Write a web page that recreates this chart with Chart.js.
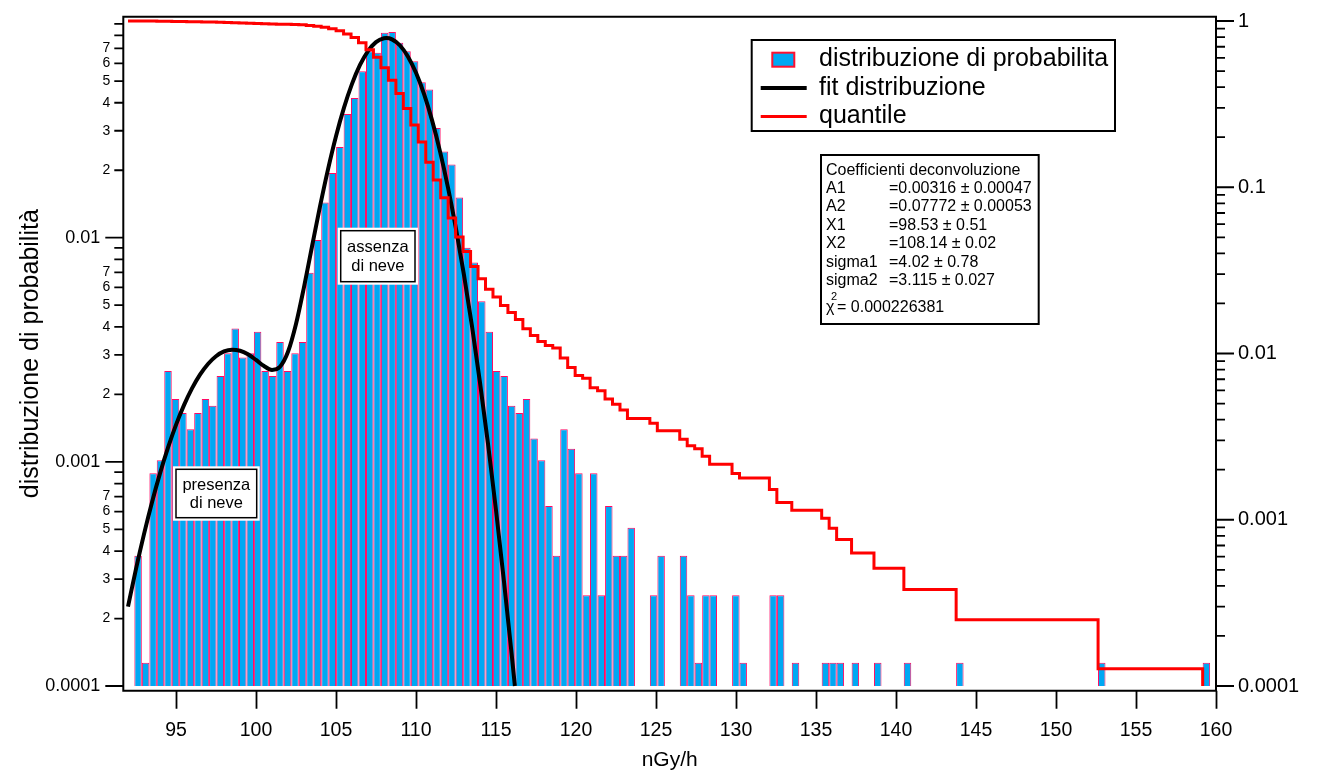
<!DOCTYPE html>
<html><head><meta charset="utf-8">
<script src="https://cdn.jsdelivr.net/npm/chart.js@4.4.0/dist/chart.umd.min.js"></script>
<style>html,body{margin:0;padding:0;background:#fff;}canvas{display:block;}</style>
</head><body>
<canvas id="c" width="1326" height="774"></canvas>
<script>
// ---------- data ----------
const binCenters = [92.63,93.10,93.57,94.03,94.50,94.97,95.43,95.90,96.37,96.84,97.30,97.77,98.24,98.70,99.17,99.64,100.10,100.57,101.04,101.50,
101.97,102.44,102.91,103.37,103.84,104.31,104.77,105.24,105.71,106.17,106.64,107.11,107.57,108.04,108.51,108.97,109.44,109.91,110.38,110.84,
111.31,111.78,112.24,112.71,113.18,113.64,114.11,114.58,115.04,115.51,115.98,116.45,116.91,117.38,117.85,118.31,118.78,119.25,119.71,120.18,
120.65,121.11,121.58,122.05,122.52,122.98,123.45,123.92,124.38,124.85,125.32,125.78,126.25,126.72,127.18,127.65,128.12,128.58,129.05,129.52,
129.99,130.45,130.92,131.39,131.85,132.32,132.79,133.25,133.72,134.19,134.65,135.12,135.59,136.06,136.52,136.99,137.46,137.92,138.39,138.86,
139.32,139.79,140.26,140.72,141.19,141.66,142.12,142.59,143.06,143.53,143.99,144.46,144.93,145.39,145.86,146.33,146.79,147.26,147.73,148.19,
148.66,149.13,149.60,150.06,150.53,151.00,151.46,151.93,152.40,152.86,153.33,153.80,154.26,154.73,155.20,155.67,156.13,156.60,157.07,157.53,
158.00,158.47,158.93,159.40];
const probability = [0.000381,0.000127,0.000889,0.001016,0.00254,0.001905,0.001651,0.001397,0.001651,0.001905,
0.001778,0.002413,0.003048,0.003937,0.002921,0.003048,0.00381,0.00254,0.002413,0.003429,
0.00254,0.003048,0.003429,0.006984,0.009778,0.01435,0.01943,0.0254,0.03568,0.04203,
0.05524,0.06781,0.06679,0.08203,0.08279,0.07403,0.06781,0.06121,0.0494,0.04584,
0.03086,0.02425,0.02121,0.01511,0.009016,0.007746,0.005206,0.00381,0.00254,0.002413,
0.001778,0.001651,0.001905,0.00127,0.001016,0.000635,0.000381,0.001397,0.001143,0.000889,
0.000254,0.000889,0.000254,0.000635,0.000381,0.000381,0.000508,0,0,0.000254,
0.000381,0,0,0.000381,0.000254,0.000127,0.000254,0.000254,0,0,
0.000254,0.000127,0,0,0,0.000254,0.000254,0,0.000127,0,
0,0,0.000127,0.000127,0.000127,0,0.000127,0,0,0.000127,
0,0,0,0.000127,0,0,0,0,0,0,
0.000127,0,0,0,0,0,0,0,0,0,
0,0,0,0,0,0,0,0,0,0.000127,
0,0,0,0,0,0,0,0,0,0,
0,0,0,0.000127];
const fitX = [92.0,92.5,93.0,93.5,94.0,94.5,95.0,95.5,96.0,96.5,97.0,97.5,98.0,98.5,99.0,99.5,100.0,100.5,101.0,101.5,
102.0,102.5,103.0,103.5,104.0,104.5,105.0,105.5,106.0,106.5,107.0,107.5,108.0,108.14,108.5,109.0,109.5,110.0,110.5,111.0,
111.5,112.0,112.5,113.0,113.5,114.0,114.5,115.0,115.5,116.0,116.18];
const fitY = [0.000226,0.000333,0.000476,0.000660,0.000888,0.001157,0.001462,0.001790,0.002126,0.002449,0.002734,0.002960,0.003108,0.003165,0.003131,0.003017,0.002849,0.002675,0.002572,0.002657,
0.003097,0.004121,0.006023,0.009136,0.013782,0.020187,0.028372,0.038052,0.048580,0.058968,0.068015,0.074529,0.077575,0.07772,0.076696,0.072020,0.064232,0.054409,0.043777,0.033452,
0.024278,0.016736,0.010956,0.006814,0.004025,0.002257,0.001203,0.000609,0.000292,0.000134,0.000100];
const quantileX = [92.0,92.400,92.867,93.334,93.801,94.268,94.735,95.201,95.668,96.135,96.602,97.069,97.536,98.003,98.470,98.937,99.404,99.870,100.337,100.804,
101.271,101.738,102.205,102.672,103.139,103.606,104.073,104.539,105.006,105.473,105.940,106.407,106.874,107.341,107.808,108.275,108.742,109.208,109.675,110.142,
110.609,111.076,111.543,112.010,112.477,112.944,113.411,113.877,114.344,114.811,115.278,115.745,116.212,116.679,117.146,117.613,118.080,118.546,119.013,119.480,
119.947,120.414,120.881,121.348,121.815,122.282,122.749,123.215,124.616,125.083,126.484,126.951,127.418,127.884,128.351,129.752,130.219,132.087,132.553,133.487,
135.355,135.822,136.289,137.222,138.623,140.491,143.759,152.630,159.167];
const quantileY = [1.0,0.99962,0.99949,0.99860,0.99759,0.99505,0.99314,0.99149,0.99010,0.98844,0.98654,0.98476,0.98235,0.97930,0.97537,0.97244,0.96940,0.96559,0.96305,0.96063,
0.95721,0.95467,0.95162,0.94819,0.94121,0.93143,0.91708,0.89765,0.87225,0.83657,0.79454,0.73930,0.67149,0.60470,0.52267,0.43987,0.36584,0.29803,0.23683,0.18743,
0.14159,0.11073,0.08648,0.06527,0.05016,0.04114,0.03340,0.02819,0.02438,0.02184,0.01943,0.01765,0.01600,0.01410,0.01283,0.01181,0.01117,0.01079,0.00940,0.00825,
0.00737,0.00711,0.00622,0.00597,0.00533,0.00495,0.00457,0.00406,0.00381,0.00343,0.00305,0.00279,0.00267,0.00241,0.00216,0.00190,0.00178,0.00152,0.00127,0.00114,
0.00102,0.00089,0.00076,0.00063,0.00051,0.00038,0.00025,0.000127,0.0001];
const xTickValues = [95,100,105,110,115,120,125,130,135,140,145,150,155,160];
const leftDecadeValues = [0.0001,0.001,0.01];
const leftDecadeLabels = ['0.0001','0.001','0.01'];
const rightDecadeValues = [0.0001,0.001,0.01,0.1,1];
const rightDecadeLabels = ['0.0001','0.001','0.01','0.1','1'];
const minorMultipliers = [2,3,4,5,6,7,8,9];
const labelledMinor = [2,3,4,5,6,7];
const coefTitle = 'Coefficienti deconvoluzione';
const coefNames = ['A1','A2','X1','X2','sigma1','sigma2'];
const coefValues = ['=0.00316 \u00b1 0.00047','=0.07772 \u00b1 0.00053','=98.53 \u00b1 0.51','=108.14 \u00b1 0.02','=4.02 \u00b1 0.78','=3.115 \u00b1 0.027'];
const chiText = '= 0.000226381';
const legendLabels = ['distribuzione di probabilita','fit distribuzione','quantile'];
const noteTexts = [['presenza','di neve'],['assenza','di neve']];

// ---------- styles ----------
const FONT = "'Liberation Sans', Arial, Helvetica, sans-serif";
const BAR_FILL = '#00A8F3', BAR_EDGE = '#FF0A64';
Chart.defaults.font.family = FONT;
Chart.defaults.color = '#000';

const Y_MIN = 0.00009529, Y_MAX = 0.09682;
const Y2_MIN = 0.0000937, Y2_MAX = 1.0614;

function logTicks(decades, labels, maxV, labelMinor) {
  const out = [];
  decades.forEach((d, i) => {
    out.push({value: d, major: true, text: labels[i]});
    minorMultipliers.forEach(m => {
      const v = +(d * m).toPrecision(6);
      if (v < maxV) out.push({value: v, major: false, text: (labelMinor && labelledMinor.includes(m)) ? String(m) : ''});
    });
  });
  return out;
}
const leftTicks = logTicks(leftDecadeValues, leftDecadeLabels, Y_MAX, true);
const rightTicks = logTicks(rightDecadeValues, rightDecadeLabels, Y2_MAX, false);

const histData = binCenters.map((x, i) => ({x: x, y: probability[i] > 0 ? probability[i] : null}));
const fitData = fitX.map((x, i) => ({x: x, y: fitY[i]}));
const quantData = quantileX.map((x, i) => ({x: x, y: quantileY[i]}));

function noPad(s) { s.paddingTop = 0; s.paddingBottom = 0; s.paddingLeft = 0; s.paddingRight = 0; }

// ---------- decorations ----------
const decor = {
  id: 'decor',
  afterDraw(chart) {
    const {ctx, chartArea: a, scales} = chart;
    ctx.save();
    ctx.strokeStyle = '#000';
    ctx.lineWidth = 2;
    ctx.beginPath();
    ctx.moveTo(a.left, a.top); ctx.lineTo(a.right, a.top);
    ctx.moveTo(a.left, a.top - 1); ctx.lineTo(a.left, a.bottom + 1);
    ctx.moveTo(a.left - 1, a.bottom); ctx.lineTo(a.right + 1, a.bottom);
    ctx.moveTo(a.right, a.top - 1); ctx.lineTo(a.right, a.bottom + 1);
    ctx.stroke();
    ctx.beginPath();
    ctx.lineWidth = 1.8;
    scales.x.ticks.forEach(t => {
      const px = Math.round(scales.x.getPixelForValue(t.value)) + 0.5;
      ctx.moveTo(px, a.bottom); ctx.lineTo(px, a.bottom + 18);
    });
    leftTicks.forEach(t => {
      const py = scales.y.getPixelForValue(t.value);
      const len = t.major ? 18 : 9;
      ctx.moveTo(a.left - len, py); ctx.lineTo(a.left, py);
    });
    rightTicks.forEach(t => {
      const py = scales.y2.getPixelForValue(t.value);
      const len = t.major ? 18 : 9;
      ctx.moveTo(a.right, py); ctx.lineTo(a.right + len, py);
    });
    ctx.stroke();

    const notes = [
      {r: [176, 469.3, 256.7, 517.7], lines: noteTexts[0], ys: [485, 503.5]},
      {r: [340.7, 230.7, 415, 281.7], lines: noteTexts[1], ys: [247, 266.5]}
    ];
    notes.forEach(n => {
      const [x1, y1, x2, y2] = n.r;
      ctx.fillStyle = '#fff';
      ctx.fillRect(x1 - 3, y1 - 3, x2 - x1 + 6, y2 - y1 + 6);
      ctx.strokeStyle = '#000'; ctx.lineWidth = 1.5;
      ctx.strokeRect(x1, y1, x2 - x1, y2 - y1);
      ctx.fillStyle = '#000';
      ctx.font = '16.5px ' + FONT;
      ctx.textAlign = 'center'; ctx.textBaseline = 'middle';
      n.lines.forEach((s, i) => ctx.fillText(s, (x1 + x2) / 2, n.ys[i]));
    });

    ctx.font = '16px ' + FONT;
    ctx.textAlign = 'left'; ctx.textBaseline = 'middle';
    const col1 = 826, col2 = 889;
    let w = ctx.measureText(coefTitle).width + col1;
    coefValues.forEach(v => { w = Math.max(w, col2 + ctx.measureText(v).width); });
    const bx1 = 821, by1 = 155, bx2 = w + 7, by2 = 324;
    ctx.fillStyle = '#fff';
    ctx.fillRect(bx1, by1, bx2 - bx1, by2 - by1);
    ctx.strokeStyle = '#000'; ctx.lineWidth = 2;
    ctx.strokeRect(bx1, by1, bx2 - bx1, by2 - by1);
    ctx.fillStyle = '#000';
    ctx.fillText(coefTitle, col1, 170.5);
    coefNames.forEach((nm, i) => {
      const y = 188.5 + i * 18.4;
      ctx.fillText(nm, col1, y);
      ctx.fillText(coefValues[i], col2, y);
    });
    ctx.fillText('\u03c7', col1, 308);
    ctx.fillText(chiText, col1 + 11, 308);
    ctx.font = '11px ' + FONT;
    ctx.fillText('2', col1 + 5, 297);

    const lx1 = 751.7, ly1 = 40, lx2 = 1115, ly2 = 131;
    ctx.fillStyle = '#fff';
    ctx.fillRect(lx1, ly1, lx2 - lx1, ly2 - ly1);
    ctx.strokeStyle = '#000'; ctx.lineWidth = 2;
    ctx.strokeRect(lx1, ly1, lx2 - lx1, ly2 - ly1);
    const rowY = [59.5, 88, 116.5];
    ctx.fillStyle = BAR_FILL;
    ctx.fillRect(772.3, 52.7, 22, 14);
    ctx.strokeStyle = '#FF1030'; ctx.lineWidth = 2;
    ctx.strokeRect(772.3, 52.7, 22, 14);
    ctx.strokeStyle = '#000'; ctx.lineWidth = 4;
    ctx.beginPath(); ctx.moveTo(760.7, rowY[1]); ctx.lineTo(806.7, rowY[1]); ctx.stroke();
    ctx.strokeStyle = '#FF0000'; ctx.lineWidth = 3;
    ctx.beginPath(); ctx.moveTo(760.7, rowY[2]); ctx.lineTo(806.7, rowY[2]); ctx.stroke();
    ctx.fillStyle = '#000';
    ctx.font = '25px ' + FONT;
    ctx.textAlign = 'left'; ctx.textBaseline = 'middle';
    legendLabels.forEach((s, i) => ctx.fillText(s, 819, rowY[i]));
    ctx.restore();
  }
};

new Chart(document.getElementById('c'), {
  type: 'bar',
  data: {
    datasets: [
      {type: 'bar', label: legendLabels[0], data: histData, xAxisID: 'x', yAxisID: 'y',
       backgroundColor: BAR_FILL, borderColor: BAR_EDGE, borderWidth: 1,
       barPercentage: 1.015, categoryPercentage: 1, base: 0.0001, order: 3},
      {type: 'line', label: legendLabels[1], data: fitData, xAxisID: 'x', yAxisID: 'y',
       borderColor: '#000', borderWidth: 4, pointRadius: 0, cubicInterpolationMode: 'monotone', fill: false, order: 2},
      {type: 'line', label: legendLabels[2], data: quantData, xAxisID: 'x', yAxisID: 'y2',
       borderColor: '#FF0000', borderWidth: 3, pointRadius: 0, stepped: true, fill: false, order: 1}
    ]
  },
  options: {
    responsive: false,
    devicePixelRatio: 1,
    animation: false,
    layout: {padding: {top: 16.7, left: 0, right: 0, bottom: 0}},
    plugins: {legend: {display: false}, tooltip: {enabled: false}},
    scales: {
      x: {
        type: 'linear', position: 'bottom', min: 91.706, max: 160.0, offset: false,
        grid: {display: false, drawTicks: false, offset: false}, border: {display: false},
        afterBuildTicks: s => { s.ticks = xTickValues.map(v => ({value: v})); },
        afterFit: s => { s.height = 83.3; noPad(s); },
        ticks: {autoSkip: false, maxRotation: 0, padding: 28, font: {size: 19.5}, color: '#000',
                callback: v => String(v)},
        title: {display: true, text: 'nGy/h', font: {size: 21}, color: '#000', padding: {top: 0, bottom: 1.5}}
      },
      y: {
        type: 'logarithmic', position: 'left', min: Y_MIN, max: Y_MAX,
        grid: {display: false, drawTicks: false}, border: {display: false},
        afterBuildTicks: s => { s.ticks = leftTicks.map(t => ({value: t.value, major: t.major})); },
        afterFit: s => { s.width = 123.3; noPad(s); },
        ticks: {autoSkip: false, padding: 13, color: '#000',
                font: c => ({size: (c.tick && c.tick.major) ? 18 : 14}),
                callback: (v, i) => leftTicks[i].major ? leftTicks[i].text + '  ' : leftTicks[i].text},
        title: {display: true, text: 'distribuzione di probabilità', font: {size: 25}, color: '#000', padding: {top: 16, bottom: 0}}
      },
      y2: {
        type: 'logarithmic', position: 'right', min: Y2_MIN, max: Y2_MAX,
        grid: {display: false, drawTicks: false}, border: {display: false},
        afterBuildTicks: s => { s.ticks = rightTicks.map(t => ({value: t.value, major: t.major})); },
        afterFit: s => { s.width = 110; noPad(s); },
        ticks: {autoSkip: false, padding: 22, color: '#000', font: {size: 20},
                callback: (v, i) => rightTicks[i].text}
      }
    }
  },
  plugins: [decor]
});
</script>
</body></html>
